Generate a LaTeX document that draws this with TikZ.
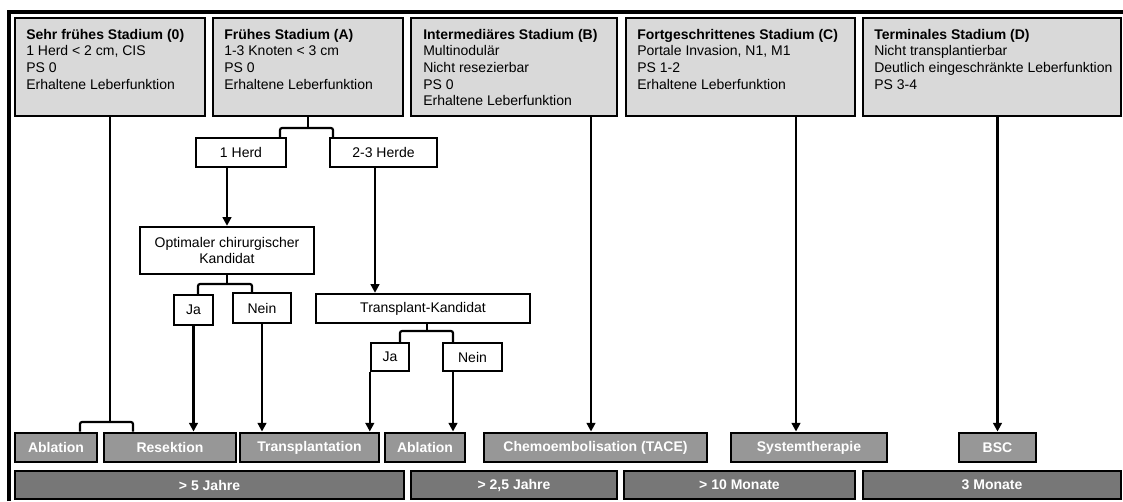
\documentclass[tikz,border=0pt]{standalone}
\usepackage{fontspec}
\setmainfont{Liberation Sans}
\usetikzlibrary{arrows.meta}

\definecolor{stagefill}{HTML}{D9D9D9}
\definecolor{treatfill}{HTML}{979797}
\definecolor{survfill}{HTML}{777777}

% box from corner (x1,y1) to corner (x2,y2), in pixel units
% #1 name, #2 x1, #3 y1, #4 x2, #5 y2, #6 style, #7 text
\newcommand\pxbox[7]{%
  \node[#6, minimum width={(#4-#2)*0.75pt}, minimum height={(#5-#3)*0.75pt}]
    (#1) at ({(#2+#4)/2},{(#3+#5)/2}) {#7};}

\tikzset{
  basefont/.style={font=\fontsize{10.5}{12.5}\selectfont},
  stagebox/.style={draw=black, line width=2.2pt, fill=stagefill, inner sep=0pt},
  stagetext/.style={basefont, anchor=base west, inner sep=0pt},
  decbox/.style={basefont, draw=black, line width=1.8pt, fill=white, inner sep=0pt, align=center},
  treatbox/.style={draw=black, line width=2.2pt, fill=treatfill, text=white, inner sep=0pt,
    font=\fontsize{10.5}{12.5}\selectfont\bfseries},
  survbox/.style={draw=black, line width=2.2pt, fill=survfill, text=white, inner sep=0pt,
    font=\fontsize{10.5}{12.5}\selectfont\bfseries},
  link/.style={line width=1.6pt, rounded corners=1.5pt},
  arrow/.style={line width=1.6pt, -{Triangle[length=6.5pt,width=6.5pt]}},
  framerule/.style={line width=2.4pt}
}

\newcommand\stagelines[1]{\parbox[t]{250pt}{\raggedright #1}}

\begin{document}
\begin{tikzpicture}[x=0.75pt,y=-0.75pt]
\useasboundingbox (0,0) rectangle (1123,501);

% outer frame (top and left rules)
\draw[framerule] (9,501) -- (9,12) -- (1123,12);

% stage boxes
\pxbox{s0}{15}{18}{205}{116}{stagebox}{}
\pxbox{sA}{213}{18}{403}{116}{stagebox}{}
\pxbox{sB}{411}{18}{617}{116}{stagebox}{}
\pxbox{sC}{626}{18}{855}{116}{stagebox}{}
\pxbox{sD}{863}{18}{1121}{116}{stagebox}{}

\node[stagetext] (t0) at (26,39) {\stagelines{\textbf{Sehr frühes Stadium (0)}\\1 Herd < 2 cm, CIS\\PS 0\\Erhaltene Leberfunktion}};
\node[stagetext] (tA) at (224,39) {\stagelines{\textbf{Frühes Stadium (A)}\\1-3 Knoten < 3 cm\\PS 0\\Erhaltene Leberfunktion}};
\node[stagetext] (tB) at (423,39) {\stagelines{\textbf{Intermediäres Stadium (B)}\\Multinodulär\\Nicht resezierbar\\PS 0\\Erhaltene Leberfunktion}};
\node[stagetext] (tC) at (637,39) {\stagelines{\textbf{Fortgeschrittenes Stadium (C)}\\Portale Invasion, N1, M1\\PS 1-2\\Erhaltene Leberfunktion}};
\node[stagetext] (tD) at (874,39) {\stagelines{\textbf{Terminales Stadium (D)}\\Nicht transplantierbar\\Deutlich eingeschränkte Leberfunktion\\PS 3-4}};

% decision boxes
\pxbox{herd1}{196}{138}{286}{167}{decbox}{1 Herd}
\pxbox{herd23}{330}{138}{437}{167}{decbox}{2-3 Herde}
\pxbox{opt}{140}{227}{314}{274}{decbox}{Optimaler chirurgischer\\Kandidat}
\pxbox{ja1}{174}{295}{213}{325}{decbox}{Ja}
\pxbox{nein1}{233}{293}{291}{323}{decbox}{Nein}
\pxbox{tk}{316}{294}{530}{323}{decbox}{Transplant-Kandidat}
\pxbox{ja2}{371}{343}{409}{371}{decbox}{Ja}
\pxbox{nein2}{443}{343}{502}{371}{decbox}{Nein}

% treatments
\pxbox{abl1}{15}{433}{97}{462}{treatbox}{Ablation}
\pxbox{res}{104}{433}{236}{462}{treatbox}{Resektion}
\pxbox{tx}{240}{433}{379}{462}{treatbox}{Transplantation}
\pxbox{abl2}{385}{433}{465}{462}{treatbox}{Ablation}
\pxbox{chemo}{484}{433}{707}{462}{treatbox}{Chemoembolisation (TACE)}
\pxbox{sys}{731}{433}{887}{462}{treatbox}{Systemtherapie}
\pxbox{bsc}{959}{433}{1036}{462}{treatbox}{BSC}

% survival
\pxbox{surv5}{15}{471}{404}{499}{survbox}{> 5 Jahre}
\pxbox{surv25}{411}{471}{617}{499}{survbox}{> 2,5 Jahre}
\pxbox{surv10}{624}{471}{855}{499}{survbox}{> 10 Monate}
\pxbox{surv3}{863}{471}{1121}{499}{survbox}{3 Monate}

% junction points
\coordinate (j0) at (110,422);
\coordinate (j0l) at (80,422);
\coordinate (j0r) at (133,422);
\coordinate (jA) at (308,128);
\coordinate (jAl) at (280,128);
\coordinate (jAr) at (333,128);
\coordinate (jO) at (227,284);
\coordinate (jOl) at (198,284);
\coordinate (jOr) at (252,284);
\coordinate (jT) at (427,331);
\coordinate (jTl) at (400,331);
\coordinate (jTr) at (453,331);
\coordinate (c23) at (375,200);
\coordinate (cB) at (591,200);
\coordinate (cC) at (796,200);

% stage 0
\draw[link] (s0.south) -- (j0);
\draw[link] (abl1.north -| j0l) -- (j0l) -- (j0r) -- (res.north -| j0r);

% stage A
\draw[link] (sA.south) -- (jA);
\draw[link] (herd1.north -| jAl) -- (jAl) -- (jAr) -- (herd23.north -| jAr);
\draw[arrow] (herd1.south -| opt.north) -- (opt.north);
\draw[arrow] (herd23.south -| c23) -- (tk.north -| c23);

\draw[link] (opt.south) -- (jO);
\draw[link] (ja1.north -| jOl) -- (jOl) -- (jOr) -- (nein1.north -| jOr);
\draw[arrow] (ja1.south) -- (ja1.south |- res.north);
\draw[arrow] (nein1.south) -- (nein1.south |- tx.north);

\draw[link] (tk.south -| jT) -- (jT);
\draw[link] (ja2.north -| jTl) -- (jTl) -- (jTr) -- (nein2.north -| jTr);
\draw[arrow] (ja2.south west) -- (ja2.south west |- tx.north);
\draw[arrow] (nein2.south -| jTr) -- (abl2.north -| jTr);

% stages B, C, D
\draw[arrow] (sB.south -| cB) -- (chemo.north -| cB);
\draw[arrow] (sC.south -| cC) -- (sys.north -| cC);
\draw[arrow] (sD.south -| bsc.north) -- (bsc.north);

\end{tikzpicture}
\end{document}
